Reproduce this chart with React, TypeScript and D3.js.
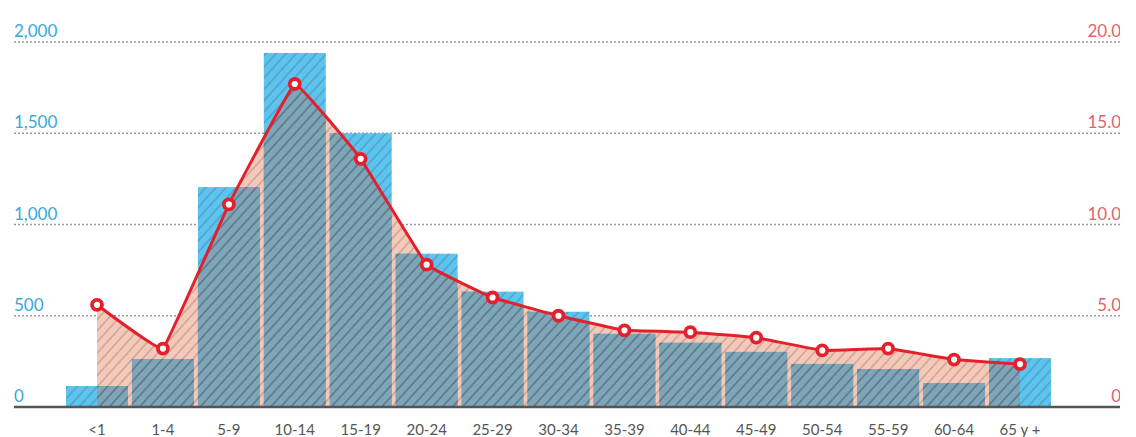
import * as d3 from 'd3'

// age groups on the x axis
const categories = ['<1', '1-4', '5-9', '10-14', '15-19', '20-24', '25-29', '30-34', '35-39', '40-44', '45-49', '50-54', '55-59', '60-64', '65 y +']

// bars, left axis
const cases = [115, 263, 1205, 1940, 1500, 840, 632, 522, 401, 352, 302, 236, 208, 131, 268]

// line, right axis
const rates = [5.6, 3.2, 11.1, 17.7, 13.6, 7.8, 6.0, 5.0, 4.2, 4.1, 3.8, 3.1, 3.2, 2.6, 2.35]

const leftTicks = [0, 500, 1000, 1500, 2000]
const rightTicks = [0, 5, 10, 15, 20]

const W = 1136
const H = 437

const App = () => {
    const gridLeft = 14
    const gridRight = 1120
    const baseY = 407
    const topY = 42

    const x = d3.scalePoint<string>()
        .domain(categories)
        .range([97, 1020])
    const step = x.step()
    const barW = step - 4

    const yL = d3.scaleLinear().domain([0, 2000]).range([baseY, topY])
    const yR = d3.scaleLinear().domain([0, 20]).range([baseY, topY])

    // nearly straight segments with a little bend
    const curve = d3.curveCardinal.tension(0.82)

    const line = d3.line<number>()
        .x((d, i) => x(categories[i]) as number)
        .y(d => yR(d))
        .curve(curve)

    const area = d3.area<number>()
        .x((d, i) => x(categories[i]) as number)
        .y0(baseY)
        .y1(d => yR(d))
        .curve(curve)

    const areaD = area(rates) || ''
    const lineD = line(rates) || ''

    const bars = cases.map((v, i) => ({
        x: (x(categories[i]) as number) - barW / 2,
        y: yL(v),
        h: baseY - yL(v)
    }))

    const fmtL = d3.format(',')
    const fmtR = (d: number) => d === 0 ? '0' : d.toFixed(1)

    return (
        <svg width={W} height={H} style={{ position: 'absolute', left: 0, top: 0, background: '#fff' }}
            fontFamily='Lato, "Open Sans", sans-serif'>
            <defs>
                <pattern id='hatch' patternUnits='userSpaceOnUse' width={7.5} height={7.5} patternTransform='rotate(42)'>
                    <line x1={1} y1={0} x2={1} y2={7.5} stroke='#2c3e4a' strokeOpacity={0.34} strokeWidth={1.1} />
                </pattern>
                <clipPath id='under-line'>
                    <path d={areaD} />
                </clipPath>
                <clipPath id='plot-clip'>
                    <rect x={0} y={0} width={gridRight} height={H} />
                </clipPath>
            </defs>

            {/* dotted grid */}
            {leftTicks.filter(t => t > 0).map(t => (
                <line key={t} x1={gridLeft} x2={gridRight} y1={yL(t)} y2={yL(t)}
                    stroke='#9a9a9a' strokeWidth={1.5} strokeDasharray='2,2' />
            ))}

            {/* pink area under the line */}
            <path d={areaD} fill='#f6c8b7' />

            {/* bars */}
            {bars.map((b, i) => (
                <rect key={'b' + i} x={b.x} y={b.y} width={barW} height={b.h} fill='#5cc4ee' />
            ))}
            <g clipPath='url(#under-line)'>
                {bars.map((b, i) => (
                    <rect key={'d' + i} x={b.x} y={b.y} width={barW} height={b.h} fill='#7fa5b8' />
                ))}
            </g>

            {/* hatching */}
            <path d={areaD} fill='url(#hatch)' />
            {bars.map((b, i) => (
                <rect key={'h' + i} x={b.x} y={b.y} width={barW} height={b.h} fill='url(#hatch)' />
            ))}

            {/* base axis */}
            <line x1={gridLeft} x2={gridRight} y1={baseY} y2={baseY} stroke='#555' strokeWidth={2.5} />

            {/* line and markers */}
            <path d={lineD} fill='none' stroke='#e3202b' strokeWidth={3} strokeLinejoin='round' />
            {rates.map((r, i) => (
                <circle key={'c' + i} cx={x(categories[i])} cy={yR(r)} r={5}
                    fill='#fff' stroke='#e3202b' strokeWidth={3.8} />
            ))}

            {/* left axis labels */}
            {leftTicks.map(t => (
                <text key={'l' + t} x={gridLeft} y={yL(t) - 5} fontSize={17} fill='#3aa7d9'>{fmtL(t)}</text>
            ))}

            {/* right axis labels */}
            <g clipPath='url(#plot-clip)'>
                {rightTicks.map(t => (
                    <text key={'r' + t} x={1121} y={yR(t) - 5} fontSize={17} fill='#e2626c' textAnchor='end'>{fmtR(t)}</text>
                ))}
            </g>

            {/* category labels */}
            {categories.map(c => (
                <text key={c} x={x(c)} y={435} fontSize={15} fill='#555' textAnchor='middle'>{c}</text>
            ))}
        </svg>
    )
}

export default App
